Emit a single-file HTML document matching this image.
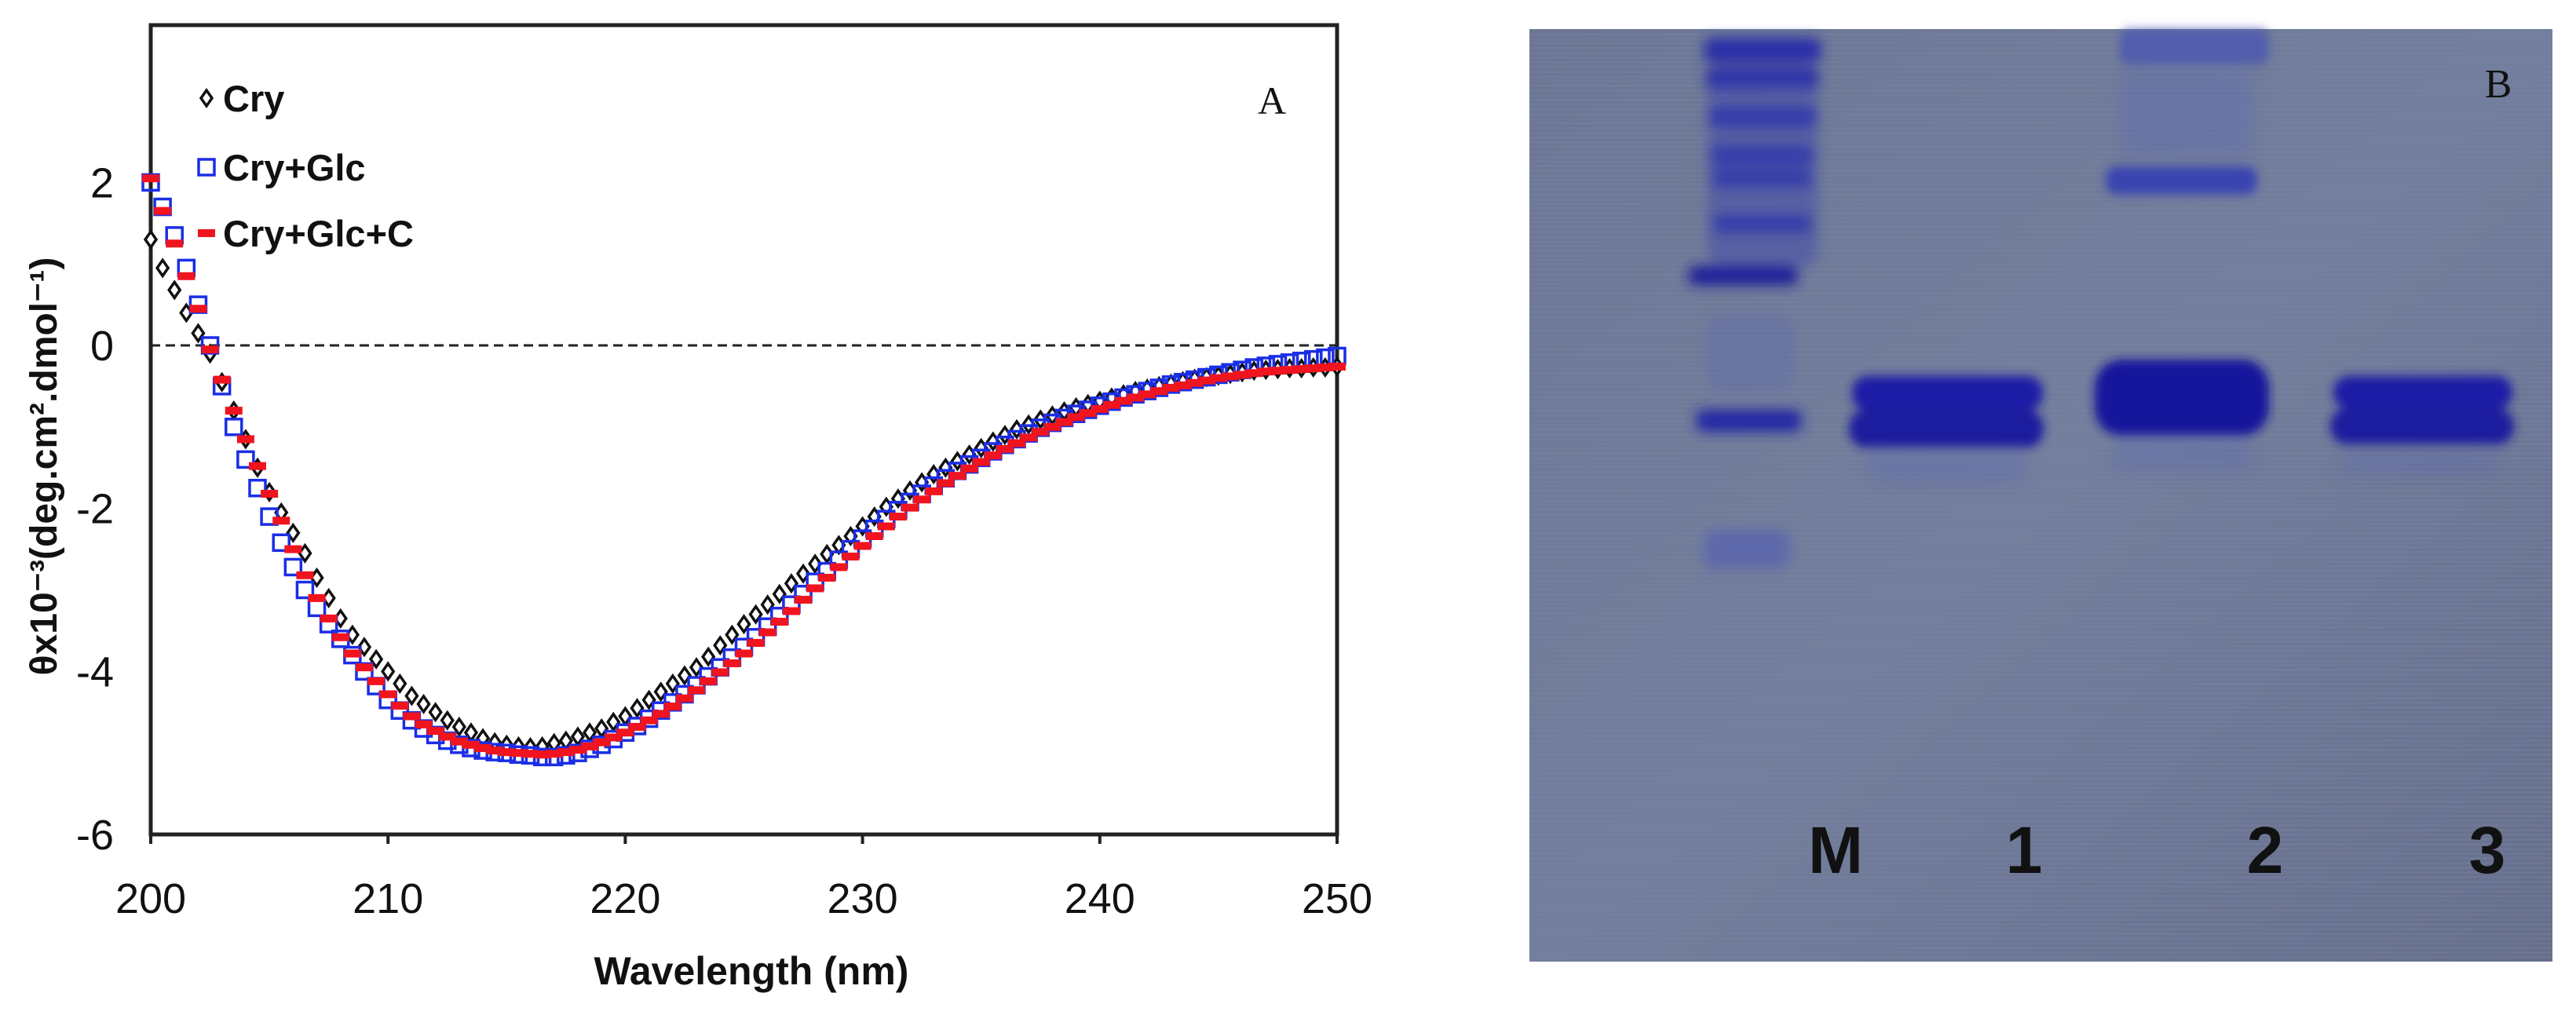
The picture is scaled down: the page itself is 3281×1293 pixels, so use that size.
<!DOCTYPE html>
<html><head><meta charset="utf-8"><style>
html,body{margin:0;padding:0;background:#fff;}
svg{display:block;}
</style></head><body>
<svg id="fig" width="3281" height="1293" viewBox="0 0 3281 1293" xmlns="http://www.w3.org/2000/svg">
<defs>
<filter id="blur6" x="-20%" y="-50%" width="140%" height="200%"><feGaussianBlur stdDeviation="6"/></filter>
<filter id="blur9" x="-20%" y="-50%" width="140%" height="200%"><feGaussianBlur stdDeviation="8"/></filter>
<filter id="blur12" x="-30%" y="-80%" width="160%" height="260%"><feGaussianBlur stdDeviation="12"/></filter>
<pattern id="scan" width="10" height="6" patternUnits="userSpaceOnUse"><rect width="10" height="3" fill="#7a86a3" opacity="0.3"/></pattern>
<linearGradient id="gelg" x1="0" y1="0" x2="1" y2="1"><stop offset="0" stop-color="#6c7694"/><stop offset="0.5" stop-color="#737e9d"/><stop offset="1" stop-color="#656e8b"/></linearGradient>
</defs>
<g id="chartA"></g>
<g id="gel">
  <rect x="1948" y="37" width="1303" height="1188" fill="url(#gelg)"/>
  <rect x="1948" y="37" width="1303" height="1188" fill="url(#scan)"/>
  <g filter="url(#blur9)" fill="#2a2fa8">
    <rect x="2170" y="48" width="150" height="32" rx="12"/>
    <rect x="2172" y="86" width="145" height="28" rx="12"/>
    <rect x="2175" y="136" width="140" height="26" rx="12"/>
    <rect x="2178" y="186" width="132" height="24" rx="10"/>
    <rect x="2180" y="216" width="128" height="22" rx="10"/>
    <rect x="2182" y="274" width="125" height="22" rx="10"/>
    <rect x="2150" y="339" width="140" height="24" rx="11" fill="#1a1d9a"/>
    <rect x="2160" y="522" width="135" height="28" rx="11" fill="#2326a4"/>
    <rect x="2170" y="675" width="110" height="50" rx="15" fill="#5560b0" opacity="0.7"/>
    <rect x="2175" y="400" width="110" height="100" rx="20" fill="#5a66ac" opacity="0.35"/>
    <rect x="2175" y="100" width="140" height="240" rx="20" fill="#3e48ac" opacity="0.5"/>
  </g>
  <g filter="url(#blur6)">
    <rect x="2359" y="479" width="243" height="44" rx="20" fill="#1b1ca6"/>
    <rect x="2355" y="522" width="248" height="48" rx="22" fill="#1a1b9e"/>
    <rect x="2668" y="458" width="222" height="97" rx="35" fill="#17189c"/>
    <rect x="2682" y="212" width="193" height="36" rx="14" fill="#3a44b0"/>
    <rect x="2700" y="37" width="190" height="45" rx="12" fill="#4a55b2" opacity="0.8"/>
    <rect x="2972" y="479" width="228" height="42" rx="20" fill="#1b1ca6"/>
    <rect x="2968" y="520" width="234" height="46" rx="22" fill="#1a1b9e"/>
  </g>
  <g filter="url(#blur12)" fill="#5866b4" opacity="0.35">
    <rect x="2380" y="575" width="200" height="40" rx="15"/>
    <rect x="2690" y="560" width="180" height="40" rx="15"/>
    <rect x="2980" y="575" width="200" height="30" rx="15"/>
    <rect x="2700" y="90" width="170" height="110" rx="15"/>
  </g>
  <g font-family="Liberation Sans, sans-serif" font-size="84" font-weight="bold" fill="#111" text-anchor="middle">
    <text x="2338" y="1112">M</text>
    <text x="2578" y="1112">1</text>
    <text x="2885" y="1112">2</text>
    <text x="3168" y="1112">3</text>
  </g>
  <text x="3182" y="124" font-family="Liberation Serif, serif" font-size="52" fill="#111" text-anchor="middle">B</text>
</g>
</svg>
<script>
const wavelengths = [];
for (let i = 0; i <= 100; i++) wavelengths.push(200 + i * 0.5);
const cry = [1.3,0.95,0.68,0.4,0.15,-0.1,-0.45,-0.8,-1.15,-1.5,-1.8,-2.05,-2.3,-2.55,-2.85,-3.1,-3.35,-3.55,-3.7,-3.85,-4.0,-4.15,-4.3,-4.4,-4.5,-4.6,-4.68,-4.75,-4.82,-4.87,-4.9,-4.92,-4.93,-4.92,-4.88,-4.85,-4.8,-4.75,-4.7,-4.62,-4.55,-4.45,-4.35,-4.25,-4.15,-4.05,-3.95,-3.82,-3.68,-3.55,-3.42,-3.3,-3.18,-3.05,-2.92,-2.8,-2.68,-2.56,-2.45,-2.34,-2.22,-2.1,-1.98,-1.88,-1.78,-1.68,-1.58,-1.5,-1.42,-1.34,-1.26,-1.18,-1.1,-1.03,-0.97,-0.91,-0.86,-0.81,-0.76,-0.72,-0.68,-0.64,-0.6,-0.56,-0.53,-0.5,-0.47,-0.44,-0.41,-0.39,-0.37,-0.35,-0.33,-0.31,-0.3,-0.29,-0.28,-0.28,-0.27,-0.27,-0.26];
const cryGlc = [2.0,1.7,1.35,0.95,0.5,0.0,-0.5,-1.0,-1.4,-1.75,-2.1,-2.42,-2.72,-3.0,-3.22,-3.42,-3.6,-3.8,-4.0,-4.18,-4.35,-4.48,-4.6,-4.7,-4.78,-4.85,-4.9,-4.94,-4.97,-4.99,-5.0,-5.02,-5.03,-5.05,-5.05,-5.03,-5.0,-4.95,-4.9,-4.83,-4.75,-4.67,-4.58,-4.48,-4.38,-4.28,-4.17,-4.06,-3.95,-3.83,-3.7,-3.58,-3.45,-3.32,-3.18,-3.05,-2.9,-2.77,-2.63,-2.5,-2.37,-2.25,-2.13,-2.02,-1.92,-1.82,-1.72,-1.63,-1.54,-1.46,-1.38,-1.3,-1.22,-1.15,-1.08,-1.01,-0.95,-0.89,-0.84,-0.79,-0.74,-0.69,-0.64,-0.6,-0.56,-0.52,-0.48,-0.45,-0.42,-0.39,-0.36,-0.33,-0.3,-0.27,-0.25,-0.23,-0.21,-0.19,-0.17,-0.15,-0.13];
const cryGlcC = [2.05,1.65,1.25,0.85,0.45,-0.05,-0.42,-0.8,-1.15,-1.48,-1.82,-2.15,-2.5,-2.82,-3.1,-3.35,-3.58,-3.78,-3.95,-4.12,-4.28,-4.42,-4.55,-4.65,-4.73,-4.8,-4.86,-4.9,-4.94,-4.97,-4.99,-5.0,-5.01,-5.02,-5.01,-4.99,-4.96,-4.92,-4.87,-4.81,-4.75,-4.68,-4.6,-4.52,-4.43,-4.33,-4.23,-4.12,-4.01,-3.9,-3.78,-3.65,-3.52,-3.39,-3.26,-3.12,-2.98,-2.85,-2.72,-2.59,-2.46,-2.34,-2.22,-2.1,-1.99,-1.89,-1.79,-1.69,-1.6,-1.51,-1.43,-1.35,-1.27,-1.2,-1.13,-1.06,-1.0,-0.94,-0.88,-0.83,-0.78,-0.73,-0.68,-0.64,-0.6,-0.56,-0.52,-0.49,-0.46,-0.43,-0.4,-0.38,-0.36,-0.34,-0.32,-0.31,-0.3,-0.29,-0.28,-0.27,-0.26];
const xTicks = [200,210,220,230,240,250];
const yTicks = [-6,-4,-2,0,2];

const NS = 'http://www.w3.org/2000/svg';
const g = document.getElementById('chartA');
const X0 = 192, X1 = 1703, Y0 = 1063, Y1 = 32;
const xMin = 200, xMax = 250, yMin = -6, yMax = 3.93;
function sx(v){ return X0 + (v - xMin) / (xMax - xMin) * (X1 - X0); }
function sy(v){ return Y0 - (v - yMin) / (yMax - yMin) * (Y0 - Y1); }
function mk(tag, attrs){ const e = document.createElementNS(NS, tag); for (const k in attrs) e.setAttribute(k, attrs[k]); g.appendChild(e); return e; }

let el = mk('rect', {x:X0, y:Y1, width:X1-X0, height:Y0-Y1, fill:'none', stroke:'#222', 'stroke-width':5});



el = mk('line', {x1:X0, x2:X1, y1:sy(0), y2:sy(0), stroke:'#222', 'stroke-width':3, 'stroke-dasharray':'12,7'});



xTicks.forEach(t => {
  const tk = mk('line', {x1:sx(t), x2:sx(t), y1:Y0, y2:Y0+12, stroke:'#222', 'stroke-width':4});
  
  
  const lb = mk('text', {x:sx(t), y:Y0+100, 'font-family':'Liberation Sans, sans-serif', 'font-size':54, 'text-anchor':'middle', fill:'#111'});
  lb.textContent = t;
  
  
});
yTicks.forEach(t => {
  const lb = mk('text', {x:145, y:sy(t)+19, 'font-family':'Liberation Sans, sans-serif', 'font-size':54, 'text-anchor':'end', fill:'#111'});
  lb.textContent = t;
  
  
});

el = mk('text', {x:957, y:1254, 'font-family':'Liberation Sans, sans-serif', 'font-size':50, 'font-weight':'bold', 'text-anchor':'middle', fill:'#111'});
el.textContent = 'Wavelength (nm)';



el = mk('text', {x:0, y:0, transform:'translate(72,594) rotate(-90)', 'font-family':'Liberation Sans, sans-serif', 'font-size':48, 'font-weight':'bold', 'text-anchor':'middle', fill:'#111'});
el.textContent = 'θx10⁻³(deg.cm².dmol⁻¹)';



function diamond(cx, cy){ return mk('path', {d:`M${cx} ${cy-10}L${cx+7} ${cy}L${cx} ${cy+10}L${cx-7} ${cy}Z`, fill:'#fff', stroke:'#111', 'stroke-width':3.5}); }
function square(cx, cy){ return mk('rect', {x:cx-10, y:cy-10, width:20, height:20, fill:'none', stroke:'#1a2ee6', 'stroke-width':3.5}); }
function dash(cx, cy){ return mk('rect', {x:cx-11, y:cy-5, width:22, height:10, fill:'#f0141e'}); }

wavelengths.forEach((w, i) => {
  const p = diamond(sx(w), sy(cry[i]));
  
  
});
wavelengths.forEach((w, i) => {
  const p = square(sx(w), sy(cryGlc[i]));
  
  
});
wavelengths.forEach((w, i) => {
  const p = dash(sx(w), sy(cryGlcC[i]));
  
  
});

el = diamond(263, 125);


el = square(263, 213);


el = dash(263, 297);


[['Cry',125,'legend-entry-cry'],['Cry+Glc',213,'legend-entry-cry-glc'],['Cry+Glc+C',297,'legend-entry-cry-glc-c']].forEach(L => {
  const t = mk('text', {x:284, y:L[1]+17, 'font-family':'Liberation Sans, sans-serif', 'font-size':47, 'font-weight':'bold', fill:'#111'});
  t.textContent = L[0];
  
  
});

el = mk('text', {x:1620, y:145, 'font-family':'Liberation Serif, serif', 'font-size':50, 'text-anchor':'middle', fill:'#111'});
el.textContent = 'A';


</script>
</body></html>
